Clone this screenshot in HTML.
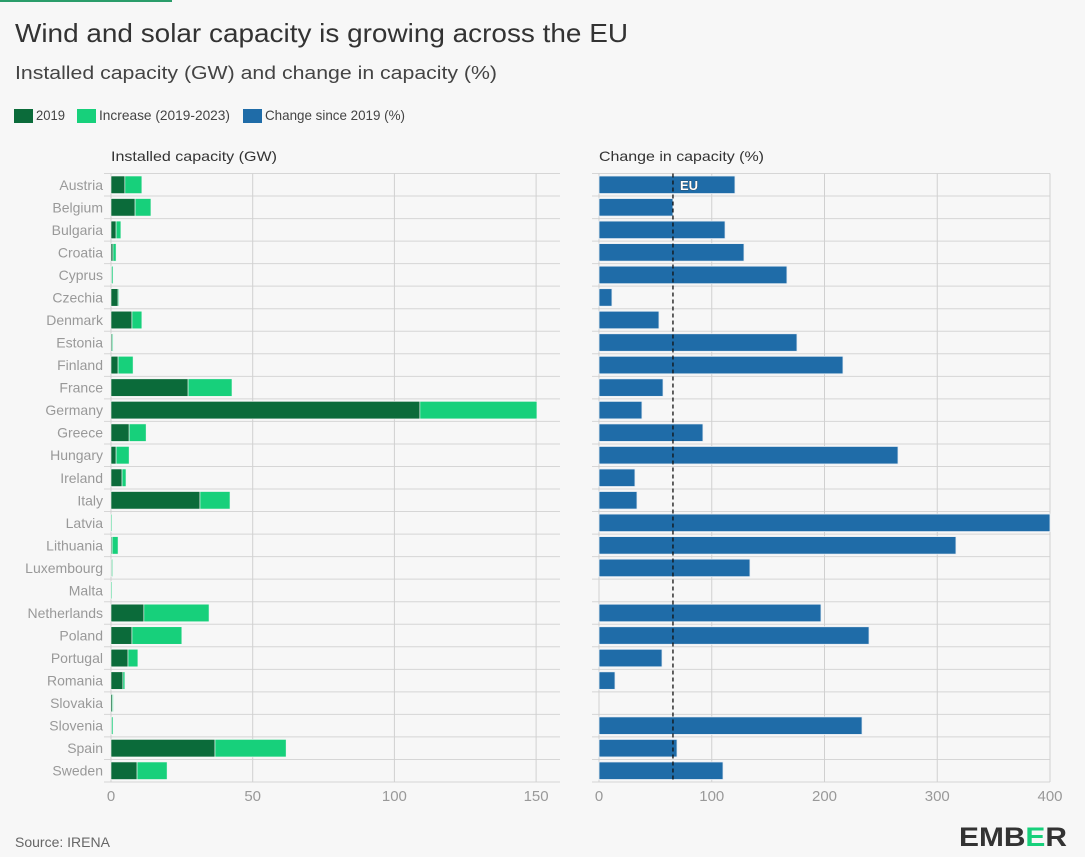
<!DOCTYPE html>
<html><head><meta charset="utf-8"><style>
body{margin:0;background:#f7f7f7;}
svg{display:block;font-family:"Liberation Sans",sans-serif;}
</style></head><body>
<svg id="c" width="1085" height="857" viewBox="0 0 1085 857">
<rect width="1085" height="857" fill="#f7f7f7"/>
<rect x="0" y="0" width="172" height="2" fill="#2a9d6a"/>
<text x="15" y="42" font-size="26" fill="#333" textLength="613" lengthAdjust="spacingAndGlyphs">Wind and solar capacity is growing across the EU</text>
<text x="15" y="79" font-size="18.5" fill="#444" textLength="482" lengthAdjust="spacingAndGlyphs">Installed capacity (GW) and change in capacity (%)</text>
<g>
<rect x="14" y="109" width="19" height="14" fill="#0b6b3a"/>
<text x="36" y="120" font-size="14" fill="#444" textLength="29" lengthAdjust="spacingAndGlyphs">2019</text>
<rect x="77" y="109" width="19" height="14" fill="#17d07b"/>
<text x="99" y="120" font-size="14" fill="#444" textLength="131" lengthAdjust="spacingAndGlyphs">Increase (2019-2023)</text>
<rect x="243" y="109" width="19" height="14" fill="#1f6ca8"/>
<text x="265" y="120" font-size="14" fill="#444" textLength="140" lengthAdjust="spacingAndGlyphs">Change since 2019 (%)</text>
</g>
<text x="111" y="161" font-size="14" fill="#333" textLength="166" lengthAdjust="spacingAndGlyphs">Installed capacity (GW)</text>
<text x="599" y="161" font-size="14" fill="#333" textLength="165" lengthAdjust="spacingAndGlyphs">Change in capacity (%)</text>
<g id="grid"></g><g id="bars"></g>
<text x="15" y="847" font-size="14" fill="#666">Source: IRENA</text>
<text x="959" y="846" font-size="27" font-weight="bold" fill="#333" textLength="108" lengthAdjust="spacingAndGlyphs">EMB<tspan fill="#17d07b">E</tspan>R</text>
</svg>
<script>
const countries=["Austria","Belgium","Bulgaria","Croatia","Cyprus","Czechia","Denmark","Estonia","Finland","France","Germany","Greece","Hungary","Ireland","Italy","Latvia","Lithuania","Luxembourg","Malta","Netherlands","Poland","Portugal","Romania","Slovakia","Slovenia","Spain","Sweden"];
const cap2019=[4.9,8.5,1.8,0.7,0.2,2.5,7.4,0.4,2.5,27.2,109,6.4,1.8,3.9,31.4,0.1,0.4,0.2,0.1,11.6,7.4,6.0,4.2,0.5,0.2,36.7,9.2];
const cap2023=[10.9,14.1,3.5,1.8,0.7,2.8,10.9,0.7,7.8,42.7,150.3,12.4,6.4,5.3,42,0.4,2.5,0.5,0.2,34.6,25,9.5,4.9,0.6,0.7,61.8,19.8];
const changePct=[120.6,65.6,111.8,128.6,166.7,11.5,53.2,175.6,216.4,56.8,38.1,92.2,265.2,31.9,33.7,400,316.6,133.9,0,196.9,239.5,55.9,14.2,0,233.3,69.2,110];
const euChange=65.6;
const gwTicks=[0,50,100,150];
const pctTicks=[0,100,200,300,400];
const NS="http://www.w3.org/2000/svg";
const xL=v=>111+v*2.834, xR=v=>599+Math.min(v,400)*1.1275;
const top0=173.5, rowH=(782-173.5)/countries.length;
const yRow=i=>top0+i*rowH;
const grid=document.getElementById('grid'), bars=document.getElementById('bars');
function mk(p,tag,at){const e=document.createElementNS(NS,tag);for(const k in at)e.setAttribute(k,at[k]);p.appendChild(e);return e;}
for(let i=0;i<=countries.length;i++){
 const l1=mk(grid,'line',{x1:104,x2:560,y1:yRow(i),y2:yRow(i),stroke:'#d6d6d6','stroke-width':1});
 
 
 const l2=mk(grid,'line',{x1:592,x2:1050,y1:yRow(i),y2:yRow(i),stroke:'#d6d6d6','stroke-width':1});
 
 
}
gwTicks.forEach(t=>{
 const l=mk(grid,'line',{x1:xL(t),x2:xL(t),y1:top0,y2:782,stroke:'#d0d0d0'});
 
 
 const tx=mk(grid,'text',{x:xL(t),y:801,'font-size':15,fill:'#999','text-anchor':'middle'});tx.textContent=t;
 
 
});
pctTicks.forEach(t=>{
 const l=mk(grid,'line',{x1:xR(t),x2:xR(t),y1:top0,y2:782,stroke:'#d0d0d0'});
 
 
 const tx=mk(grid,'text',{x:xR(t),y:801,'font-size':15,fill:'#999','text-anchor':'middle'});tx.textContent=t;
 
 
});
countries.forEach((c,i)=>{
 const y=yRow(i)+2.5, h=rowH-5, cy=yRow(i)+rowH/2;
 const lb=mk(bars,'text',{x:103,y:cy+5,'font-size':14,fill:'#999','text-anchor':'end'});lb.textContent=c;
 
 
 const b1=mk(bars,'rect',{x:xL(0),y:y,width:Math.max(xL(cap2019[i])-xL(0),1),height:h,fill:'#0b6b3a',stroke:'#f7f7f7','stroke-width':0.6});
 
 
 const b2=mk(bars,'rect',{x:xL(cap2019[i]),y:y,width:Math.max(xL(cap2023[i])-xL(cap2019[i]),1),height:h,fill:'#17d07b',stroke:'#f7f7f7','stroke-width':0.6});
 
 
 if(changePct[i]>0){
  const b3=mk(bars,'rect',{x:xR(0),y:y,width:xR(changePct[i])-xR(0),height:h,fill:'#1f6ca8',stroke:'#e8eef4','stroke-width':0.8});
  
  
 }
});
const eu=mk(bars,'line',{x1:xR(euChange),x2:xR(euChange),y1:top0,y2:782,stroke:'#111','stroke-width':1.3,'stroke-dasharray':'4,3'});


const eut=mk(bars,'text',{x:xR(euChange)+7,y:yRow(0)+rowH/2+5,'font-size':13,'font-weight':'bold',fill:'#fff',stroke:'#333','stroke-width':0.6,'paint-order':'stroke'});eut.textContent='EU';


</script>
</body></html>
